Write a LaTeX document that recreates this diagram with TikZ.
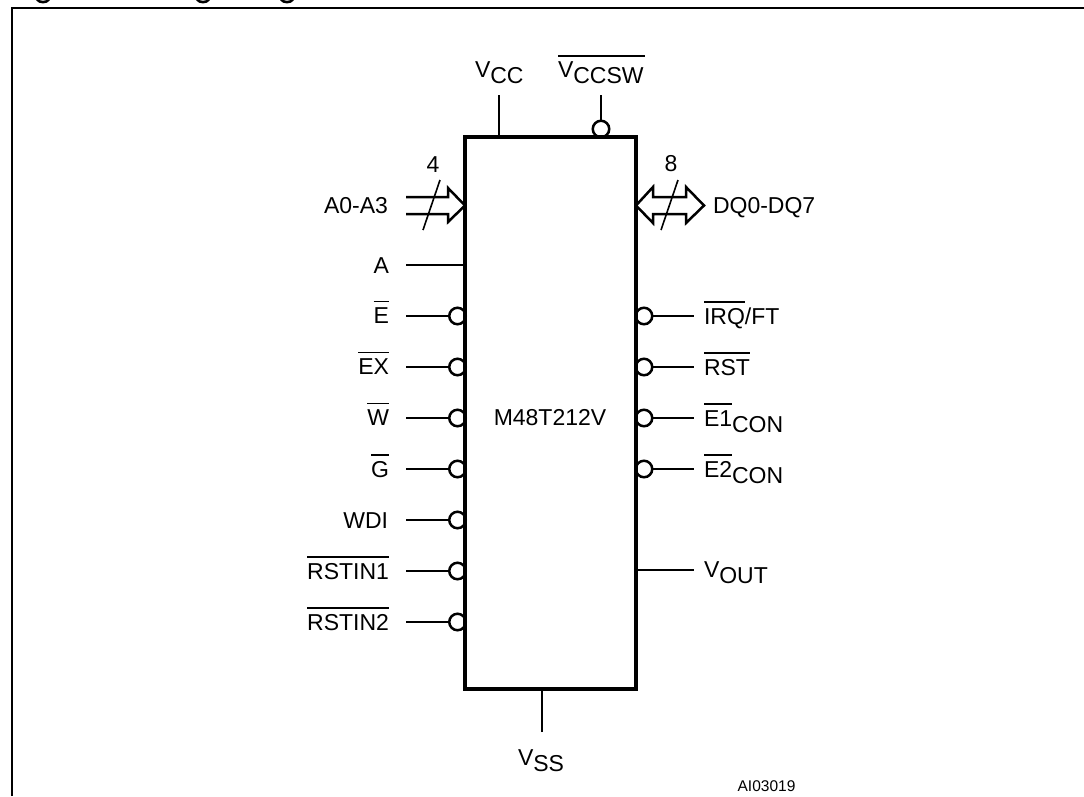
\documentclass[tikz,border=0pt]{standalone}
\usepackage{fontspec}
\setmainfont{Liberation Sans}
\newcommand\ovl[1]{\leavevmode\setbox0=\hbox{#1}\rlap{\raisebox{21.5pt}{\rule{\wd0}{1.1pt}}}\box0}
\newcommand\low[1]{\raisebox{-6.5pt}{#1}}
\tikzset{
  pinlabel/.style={font=\fontsize{23}{26}\selectfont, inner sep=0pt, outer sep=0pt, text=black},
  lefttxt/.style={pinlabel, anchor=base east},
  righttxt/.style={pinlabel, anchor=base west},
  toptxt/.style={pinlabel, anchor=base west},
  wire/.style={line width=2.3pt, line cap=butt},
  bubble/.style={circle, draw=black, fill=white, line width=2.5pt, minimum size=16.5pt, inner sep=0pt, outer sep=0pt},
  chipbox/.style={draw=black, line width=3.4pt, minimum width=171pt, minimum height=552pt, inner sep=0pt, outer sep=0pt, anchor=north west, font=\fontsize{23}{26}\selectfont},
  buswire/.style={line width=2.5pt, miter limit=10, fill=white},
  slash/.style={line width=1.6pt},
}
\begin{document}
\begin{tikzpicture}[x=1pt,y=-1pt]
\useasboundingbox (0,0) rectangle (1084,796);
% frame and clipped heading remnants
\draw[line width=2.6pt] (12,796) -- (12,8) -- (1084,8);
\foreach \gx in {43,203,287}
  \draw[line width=2.6pt] (\gx-6,-0.5) .. controls (\gx-3,3) and (\gx+3,3) .. (\gx+6,-0.5);

% bubbles first so that the chip edge sits on top
\foreach \nm/\bx/\by in {bE/457.5/316,bEX/457.5/367,bW/457.5/418,bG/457.5/469,bWDI/457.5/520,bR1/457.5/571,bR2/457.5/622,
                         bIRQ/644/316,bRST/644/367,bEa/644/418,bEb/644/469,bSW/601/129}
  \node[bubble] (\nm) at (\bx,\by) {};

\node[chipbox] (chip) at (465,137) {};
\node[pinlabel] (chipname) at (550,418) {M48T212V};

% left pins
\node[lefttxt] (lA) at (389,273) {A};
\coordinate (wA) at (406,265);
\draw[wire] (wA) -- (wA -| chip.west);
\foreach \nm/\txt/\by in {E/E/323.5,EX/EX/374.5,W/W/425.5,G/G/477,R1/RSTIN1/579,R2/RSTIN2/630}{
  \node[lefttxt] (l\nm) at (389,\by) {\ovl{\txt}};
}
\node[lefttxt] (lWDI) at (388,528) {WDI};
\foreach \nm in {E,EX,W,G,WDI,R1,R2}{
  \draw[wire] (406,0 |- b\nm.west) -- (b\nm.west);
}

% right pins
\node[righttxt] (lIRQ) at (704,324) {\ovl{IRQ}/FT};
\node[righttxt] (lRST) at (704,375) {\ovl{RST}};
\node[righttxt] (lEa) at (704,426) {\ovl{E1}\low{CON}};
\node[righttxt] (lEb) at (704,477) {\ovl{E2}\low{CON}};
\foreach \nm in {IRQ,RST,Ea,Eb}{
  \draw[wire] (b\nm.east) -- (694,0 |- b\nm.east);
}
\node[righttxt] (lOUT) at (704,577) {V\low{OUT}};
\coordinate (wOUT) at (694,570);
\draw[wire] (wOUT -| chip.east) -- (wOUT);

% top and bottom pins
\node[toptxt] (lCC) at (475,77) {V\low{CC}};
\coordinate (wCC) at (499,95);
\draw[wire] (wCC) -- (wCC |- chip.north);
\node[toptxt] (lSW) at (558,77) {V\low{CCSW}};
\coordinate (oSWa) at (558,56);
\coordinate (oSWb) at (645,56);
\draw[line width=1.1pt] (oSWa) -- (oSWb);
\coordinate (wSW) at (601,95);
\draw[wire] (wSW) -- (bSW.north);
\node[toptxt] (lSS) at (518,765) {V\low{SS}};
\coordinate (wSS) at (542,732);
\draw[wire] (wSS) -- (wSS |- chip.south);

% buses
\draw[buswire] (406,197) -- (448,197) -- (448,188) -- (465,205.5) -- (448,222) -- (448,214) -- (406,214);
\draw[slash] (440,180) -- (423,230);
\node[pinlabel] (n4) at (433,165) {4};
\node[lefttxt] (lA03) at (388,213) {A0-A3};
\draw[buswire] (653,197) -- (686,197) -- (686,187) -- (704,205.5) -- (686,223) -- (686,214) -- (653,214) -- (653,223) -- (636,205.5) -- (653,187) -- cycle;
\draw[slash] (678,180) -- (661,230);
\node[pinlabel] (n8) at (671,164) {8};
\node[righttxt] (lDQ) at (713,213.5) {DQ0-DQ7};

\node[font=\fontsize{15.5}{18}\selectfont, inner sep=0pt, anchor=base] (code) at (766.5,791) {AI03019};
\end{tikzpicture}
\end{document}
